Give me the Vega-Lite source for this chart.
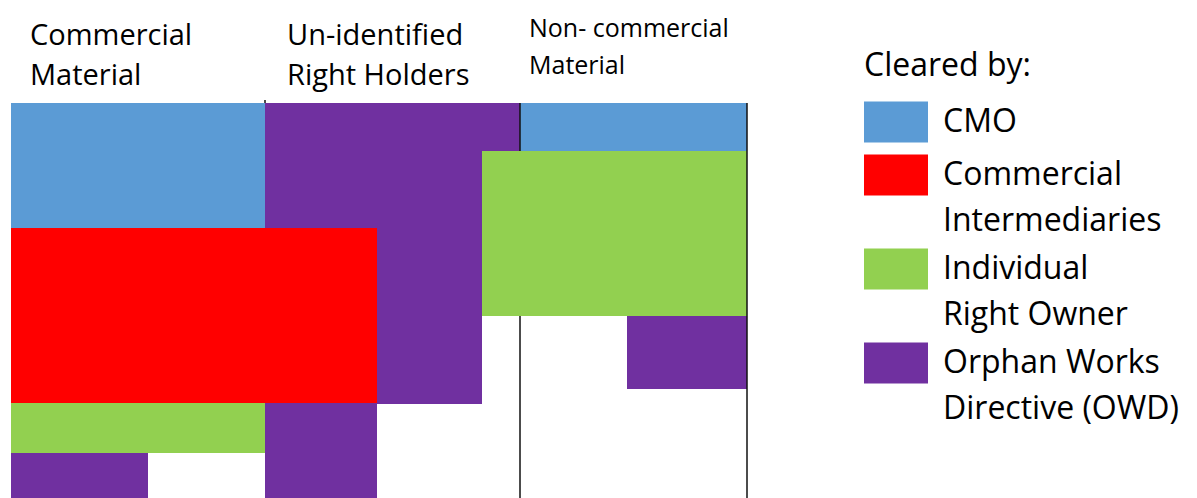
{
  "$schema": "https://vega.github.io/schema/vega-lite/v6.json",
  "width": 736,
  "height": 395,
  "autosize": {"type": "none"},
  "padding": {"left": 11, "top": 103, "right": 450, "bottom": 0},
  "background": "white",
  "config": {"view": {"stroke": null}},
  "datasets": {
    "blocks": [
      {"material": "Commercial Material", "clearedBy": "CMO", "x0": 0, "x1": 254, "y0": 0, "y1": 125},
      {"material": "Un-identified Right Holders", "clearedBy": "Orphan Works Directive (OWD)", "x0": 254, "x1": 509, "y0": 0, "y1": 48},
      {"material": "Un-identified Right Holders", "clearedBy": "Orphan Works Directive (OWD)", "x0": 254, "x1": 471, "y0": 48, "y1": 301},
      {"material": "Commercial Material", "clearedBy": "Commercial Intermediaries", "x0": 0, "x1": 366, "y0": 125, "y1": 300},
      {"material": "Commercial Material", "clearedBy": "Individual Right Owner", "x0": 0, "x1": 254, "y0": 300, "y1": 350},
      {"material": "Commercial Material", "clearedBy": "Orphan Works Directive (OWD)", "x0": 0, "x1": 137, "y0": 350, "y1": 395},
      {"material": "Un-identified Right Holders", "clearedBy": "Orphan Works Directive (OWD)", "x0": 254, "x1": 366, "y0": 300, "y1": 395},
      {"material": "Non-commercial Material", "clearedBy": "CMO", "x0": 509, "x1": 736, "y0": 0, "y1": 48},
      {"material": "Non-commercial Material", "clearedBy": "Individual Right Owner", "x0": 471, "x1": 736, "y0": 48, "y1": 213},
      {"material": "Non-commercial Material", "clearedBy": "Orphan Works Directive (OWD)", "x0": 616, "x1": 736, "y0": 213, "y1": 286}
    ],
    "dividers": [
      {"x": 254, "y0": -3, "y1": 0},
      {"x": 509, "y0": 0, "y1": 48},
      {"x": 509, "y0": 213, "y1": 395},
      {"x": 736, "y0": 0, "y1": 395}
    ],
    "headers": [
      {"label": ["Commercial", "Material"], "x": 19, "y": -58},
      {"label": ["Un-identified", "Right Holders"], "x": 276, "y": -58}
    ],
    "smallHeaders": [
      {"label": ["Non- commercial", "Material"], "x": 518, "y": -66}
    ]
  },
  "layer": [
    {
      "data": {"name": "blocks"},
      "mark": {"type": "rect"},
      "encoding": {
        "x": {"field": "x0", "type": "quantitative", "scale": {"domain": [0, 736], "nice": false, "zero": false}, "axis": null},
        "x2": {"field": "x1"},
        "y": {"field": "y0", "type": "quantitative", "scale": {"domain": [0, 395], "nice": false, "zero": false, "reverse": true}, "axis": null},
        "y2": {"field": "y1"},
        "color": {
          "field": "clearedBy",
          "type": "nominal",
          "scale": {
            "domain": ["CMO", "Commercial Intermediaries", "Individual Right Owner", "Orphan Works Directive (OWD)"],
            "range": ["#5B9BD5", "#FF0000", "#92D050", "#7030A0"]
          },
          "legend": {
            "orient": "none",
            "legendX": 853,
            "legendY": -52,
            "title": "Cleared by:",
            "titleFont": "Open Sans",
            "titleFontSize": 32,
            "titleFontWeight": "normal",
            "titleColor": "#000000",
            "titlePadding": 7,
            "symbolType": "M-1,-0.64L1,-0.64L1,0.64L-1,0.64Z",
            "symbolSize": 4096,
            "symbolStrokeWidth": 0,
            "symbolOpacity": 1,
            "labelFont": "Open Sans",
            "labelFontSize": 32,
            "labelColor": "#000000",
            "labelBaseline": "middle",
            "labelOffset": 15,
            "labelLimit": 400,
            "rowPadding": 0,
            "labelExpr": "datum.label == 'Commercial Intermediaries' ? ['Commercial', 'Intermediaries'] : datum.label == 'Individual Right Owner' ? ['Individual', 'Right Owner'] : datum.label == 'Orphan Works Directive (OWD)' ? ['Orphan Works', 'Directive (OWD)'] : datum.label",
            "encode": {"labels": {"update": {"lineHeight": {"value": 46}}}}
          }
        }
      }
    },
    {
      "data": {"name": "dividers"},
      "mark": {"type": "rule", "color": "#111111", "strokeWidth": 1.5},
      "encoding": {
        "x": {"field": "x", "type": "quantitative"},
        "y": {"field": "y0", "type": "quantitative"},
        "y2": {"field": "y1"}
      }
    },
    {
      "data": {"name": "headers"},
      "mark": {"type": "text", "align": "left", "baseline": "alphabetic", "font": "Open Sans", "fontSize": 29, "lineHeight": 40, "color": "#000000"},
      "encoding": {
        "x": {"field": "x", "type": "quantitative"},
        "y": {"field": "y", "type": "quantitative"},
        "text": {"field": "label"}
      }
    },
    {
      "data": {"name": "smallHeaders"},
      "mark": {"type": "text", "align": "left", "baseline": "alphabetic", "font": "Open Sans", "fontSize": 25, "lineHeight": 37, "color": "#000000"},
      "encoding": {
        "x": {"field": "x", "type": "quantitative"},
        "y": {"field": "y", "type": "quantitative"},
        "text": {"field": "label"}
      }
    }
  ]
}
